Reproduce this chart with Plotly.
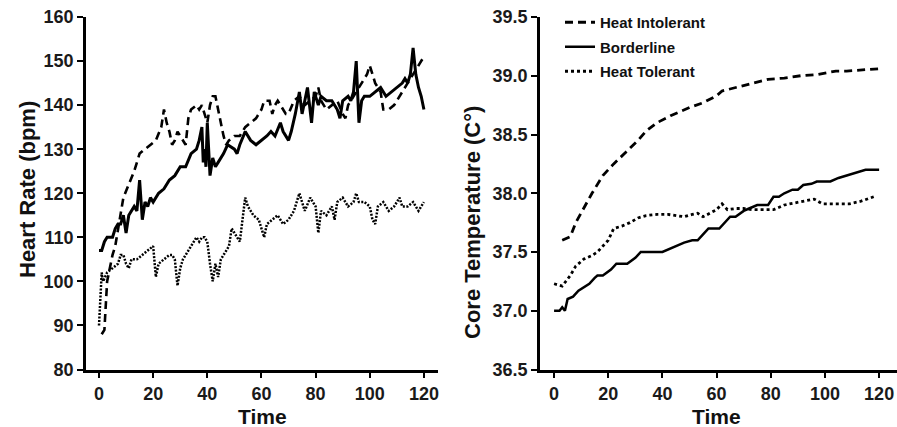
import plotly.graph_objects as go

# ---------------- Heart rate (left panel) ----------------
hr_int_t = [1, 2, 3, 4, 5, 6, 8, 9, 11, 13, 15, 17, 19, 21, 23, 24, 25, 26, 27, 28, 29, 30, 31, 32, 33, 34, 36, 37, 38, 39,
            40, 41, 42, 43, 44, 45, 46, 47, 48, 50, 52, 54, 56, 58, 60, 61, 63, 64, 65, 66, 68, 69, 70, 72, 74, 76, 78, 80,
            81, 82, 84, 86, 88, 90, 91, 92, 94, 96, 98, 99, 100, 101, 102, 104, 105, 107, 109, 110, 112, 114, 116, 118, 119, 120]
hr_int_v = [88, 89, 100, 103, 106, 108, 115, 119, 122, 125, 129, 130, 131, 132, 135, 139, 136, 134, 131, 132, 134, 133, 132, 131,
            137, 139, 140, 139, 140, 138, 136, 140, 142, 142, 139, 136, 133, 131, 132, 133, 133, 135, 136, 137, 139, 141, 141,
            138, 140, 141, 139, 138, 138, 141, 142, 140, 141, 142, 144, 141, 139, 140, 141, 138, 137, 140, 142, 144, 146, 147,
            149, 147, 145, 143, 139, 139, 140, 141, 143, 145, 147, 149, 150, 151]

hr_bord_t = [0, 1, 2, 3, 5, 6, 7, 8, 9, 10, 11, 12, 13, 14, 15, 16, 17, 18, 19, 20, 22, 24, 26, 28, 30, 32, 34, 36, 37, 38,
             38.5, 39, 39.5, 40, 41, 42, 43, 44, 46, 47.5, 50, 51, 52, 54, 56, 58, 60, 62, 63.5, 65, 67, 68, 70, 71, 72.5,
             74, 75, 76, 77, 78.5, 79.5, 81, 82, 84, 86, 88, 89, 90, 92, 93, 94, 95, 96, 97, 98, 100, 102, 104, 106, 108,
             110, 112, 113, 114, 115, 116, 117, 118, 119, 120]
hr_bord_v = [107, 107, 109, 110, 110, 112, 113, 113, 115, 111, 115, 116, 117, 116, 123, 114, 118, 117, 119, 118, 120, 121, 123,
             124, 126, 126, 129, 130, 132, 135, 127, 130, 126, 136, 124, 128, 126, 127, 129, 131, 130, 129, 131, 134, 132, 131,
             132, 133, 134, 133, 136, 134, 132, 134, 138, 143, 138, 141, 144, 136, 143, 140, 142, 141, 141, 139, 137, 141,
             142, 141, 143, 150, 136, 141, 142, 142, 143, 144, 142, 143, 144, 145, 146, 145, 147, 153, 147, 144, 142, 139]

hr_tol_t = [0, 1, 1.5, 3, 5, 7, 8, 9, 10, 11, 12, 14, 16, 18, 20, 21, 22, 24, 26, 27, 28, 29, 30, 31, 32, 34, 36, 37, 38, 39,
            40, 41, 42, 43, 44, 45, 46, 48, 49, 50, 51, 52, 53, 54, 55, 57, 59, 61, 62, 64, 66, 68, 70, 72, 74, 75, 76, 78,
            80, 81, 82, 84, 86, 87, 88, 90, 92, 94, 95, 96, 98, 100, 101, 102, 103, 105, 107, 109, 111, 112, 114, 116, 118, 120]
hr_tol_v = [90, 102, 100, 102, 103, 104, 106, 106, 104, 103, 105, 105, 106, 107, 108, 101, 104, 105, 106, 106, 105, 99, 103,
            105, 106, 108, 110, 109, 110, 110, 109, 104, 100, 104, 101, 105, 106, 108, 112, 111, 110, 109, 114, 119, 117, 115,
            114, 110, 113, 114, 115, 113, 114, 116, 120, 118, 116, 119, 117, 111, 116, 115, 117, 114, 118, 119, 117, 118, 120,
            118, 118, 117, 114, 113, 117, 118, 116, 117, 119, 117, 117, 118, 116, 118]

# ---------------- Core temperature (right panel) ----------------
ct_int_t = [3, 6, 8, 11, 14, 18, 22, 27, 31, 34, 38, 43, 47, 50, 55, 60, 62, 67, 73, 79, 85, 91, 97, 104, 108, 114, 120]
ct_int_v = [37.60, 37.63, 37.75, 37.88, 38.00, 38.15, 38.25, 38.36, 38.45, 38.53, 38.60, 38.66, 38.70, 38.73, 38.77, 38.83,
            38.87, 38.90, 38.94, 38.97, 38.98, 39.00, 39.01, 39.04, 39.04, 39.05, 39.06]

ct_bord_t = [0, 2, 3, 4, 5, 7, 9, 11, 13, 15, 16, 18, 21, 23, 27, 30, 32, 40, 44, 48, 51, 53, 55, 57, 61, 63, 65, 67, 70, 72,
             75, 79, 81, 83, 85, 88, 90, 92, 95, 97, 102, 105, 108, 112, 115, 120]
ct_bord_v = [37.00, 37.00, 37.03, 37.00, 37.10, 37.12, 37.17, 37.20, 37.23, 37.28, 37.30, 37.30, 37.35, 37.40, 37.40, 37.45,
             37.50, 37.50, 37.54, 37.58, 37.60, 37.60, 37.65, 37.70, 37.70, 37.75, 37.80, 37.80, 37.85, 37.87, 37.90, 37.90,
             37.97, 37.97, 38.00, 38.03, 38.03, 38.07, 38.08, 38.10, 38.10, 38.13, 38.15, 38.18, 38.20, 38.20]

ct_tol_t = [0, 3, 6, 8, 11, 14, 16, 18, 20, 22, 25, 28, 31, 34, 38, 42, 45, 48, 51, 53, 55, 58, 60, 62, 64, 67, 70, 73, 77, 81,
            85, 89, 92, 96, 99, 104, 109, 113, 118]
ct_tol_v = [37.23, 37.21, 37.30, 37.38, 37.44, 37.47, 37.50, 37.55, 37.60, 37.70, 37.72, 37.75, 37.79, 37.81, 37.82, 37.82,
            37.81, 37.80, 37.82, 37.83, 37.80, 37.84, 37.86, 37.91, 37.86, 37.87, 37.87, 37.86, 37.86, 37.86, 37.90, 37.92,
            37.93, 37.95, 37.91, 37.91, 37.91, 37.93, 37.97]

series_names = ["Heat Intolerant", "Borderline", "Heat Tolerant"]
x_ticks = [0, 20, 40, 60, 80, 100, 120]
hr_ticks = [80, 90, 100, 110, 120, 130, 140, 150, 160]
ct_ticks = [36.5, 37.0, 37.5, 38.0, 38.5, 39.0, 39.5]
ct_tick_text = ["36.5", "37.0", "37.5", "38.0", "38.5", "39.0", "39.5"]

FONT = "Liberation Sans, Arial, sans-serif"
DASH = "8px,5px"
DOT_L = "2px,1.5px"
DOT_R = "3px,3px"

fig = go.Figure()

# left panel
fig.add_trace(go.Scatter(x=hr_int_t, y=hr_int_v, mode="lines", line=dict(color="black", width=2.6, dash=DASH),
                         showlegend=False, xaxis="x", yaxis="y"))
fig.add_trace(go.Scatter(x=hr_tol_t, y=hr_tol_v, mode="lines", line=dict(color="black", width=2.5, dash=DOT_L),
                         showlegend=False, xaxis="x", yaxis="y"))
fig.add_trace(go.Scatter(x=hr_bord_t, y=hr_bord_v, mode="lines", line=dict(color="black", width=3),
                         showlegend=False, xaxis="x", yaxis="y"))

# right panel
fig.add_trace(go.Scatter(x=ct_int_t, y=ct_int_v, mode="lines", name=series_names[0], legendgroup="a",
                         line=dict(color="black", width=2.8, dash=DASH), xaxis="x2", yaxis="y2"))
fig.add_trace(go.Scatter(x=ct_bord_t, y=ct_bord_v, mode="lines", name=series_names[1], legendgroup="b",
                         line=dict(color="black", width=2.5), xaxis="x2", yaxis="y2"))
fig.add_trace(go.Scatter(x=ct_tol_t, y=ct_tol_v, mode="lines", name=series_names[2], legendgroup="c",
                         line=dict(color="black", width=2.8, dash=DOT_R), xaxis="x2", yaxis="y2"))

W, H = 897, 427
ybot = (H - 369.5) / H
ytop = (H - 17) / H

axis_common = dict(showline=True, linecolor="black", linewidth=2.5, ticks="outside", ticklen=6, tickwidth=2,
                   tickcolor="black", showgrid=False, zeroline=False, automargin=False,
                   tickfont=dict(family=FONT, size=18, color="#1a1a1a", weight="bold"))

title_font = dict(family=FONT, size=22, color="#111", weight="bold")

fig.update_layout(
    width=W, height=H,
    margin=dict(l=0, r=0, t=0, b=0, pad=0, autoexpand=False),
    paper_bgcolor="white", plot_bgcolor="white",
    font=dict(family=FONT, color="#111"),
    xaxis=dict(domain=[86 / W, 438 / W], range=[-4.8, 125.2], tickvals=x_ticks, anchor="y", **axis_common),
    yaxis=dict(domain=[ybot, ytop], range=[80, 160], tickvals=hr_ticks, anchor="x", **axis_common),
    xaxis2=dict(domain=[540 / W, 1.0], range=[-5.2, 126.6], tickvals=x_ticks, anchor="y2", **axis_common),
    yaxis2=dict(domain=[ybot, ytop], range=[36.5, 39.5], tickvals=ct_ticks, ticktext=ct_tick_text, anchor="x2",
                **axis_common),
    legend=dict(x=560 / W, y=1 - 6 / H, xanchor="left", yanchor="top", bgcolor="rgba(0,0,0,0)",
                font=dict(family=FONT, size=15, color="#111", weight="bold"), tracegroupgap=2, itemwidth=30),
    annotations=[
        dict(text="Heart Rate (bpm)", x=27 / W, y=(H - 190) / H, xref="paper", yref="paper", textangle=-90,
             xanchor="center", yanchor="middle", showarrow=False, font=title_font),
        dict(text="Time", x=262 / W, y=(H - 416) / H, xref="paper", yref="paper", xanchor="center",
             yanchor="middle", showarrow=False, font=dict(family=FONT, size=21, color="#111", weight="bold")),
        dict(text="Core Temperature (C°)", x=472 / W, y=(H - 222) / H, xref="paper", yref="paper", textangle=-90,
             xanchor="center", yanchor="middle", showarrow=False, font=title_font),
        dict(text="Time", x=716 / W, y=(H - 416) / H, xref="paper", yref="paper", xanchor="center",
             yanchor="middle", showarrow=False, font=dict(family=FONT, size=21, color="#111", weight="bold")),
    ],
)

fig.write_html("out.html")
